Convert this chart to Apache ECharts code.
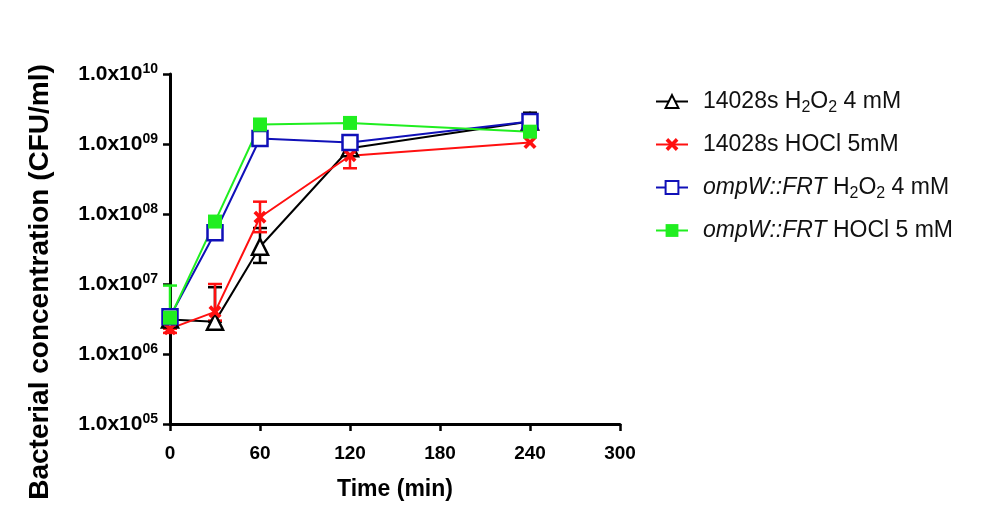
<!DOCTYPE html>
<html>
<head>
<meta charset="utf-8">
<script src="https://cdn.jsdelivr.net/npm/echarts@6/dist/echarts.min.js"></script>
<style>html,body{margin:0;padding:0;background:#fff;}#chart{width:992px;height:531px;}</style>
</head>
<body>
<div id="chart"></div>
<script>
// ---- data ----
const times = [0, 30, 60, 120, 240];
const xTicks = [0, 60, 120, 180, 240, 300];
const seriesNames = ['14028s H2O2 4 mM', '14028s HOCl 5mM', 'ompW::FRT H2O2 4 mM', 'ompW::FRT HOCl 5 mM'];
const legendLabels = ['14028s H{sub|2}O{sub|2} 4 mM', '14028s HOCl 5mM', '{it|ompW::FRT} H{sub|2}O{sub|2} 4 mM', '{it|ompW::FRT} HOCl 5 mM'];

const wtH2O2 = [3.1e6, 2.9e6, 3.4e7, 8.7e8, 2.1e9];
const wtH2O2Low = [3.1e6, 2.9e6, 2.0e7, 8.7e8, 2.1e9];
const wtH2O2High = [3.1e6, 9.0e6, 6.3e7, 8.7e8, 2.8e9];

const wtHOCl = [2.3e6, 4.0e6, 9.0e7, 6.8e8, 1.05e9];
const wtHOClLow = [2.0e6, 3.0e6, 5.5e7, 4.5e8, 1.05e9];
const wtHOClHigh = [2.3e6, 1.0e7, 1.5e8, 8.5e8, 1.05e9];

const ompH2O2 = [3.4e6, 5.4e7, 1.2e9, 1.05e9, 2.1e9];
const ompH2O2Low = [3.4e6, 5.4e7, 1.2e9, 1.05e9, 2.1e9];
const ompH2O2High = [3.4e6, 5.4e7, 1.2e9, 1.05e9, 2.1e9];

const ompHOCl = [3.3e6, 7.8e7, 1.9e9, 2.0e9, 1.5e9];
const ompHOClLow = [3.3e6, 7.8e7, 1.9e9, 2.0e9, 1.5e9];
const ompHOClHigh = [9.5e6, 7.8e7, 1.9e9, 2.0e9, 1.5e9];

const colors = ['#000000', '#ff1010', '#1010b8', '#20ee20'];

// ---- build ----
function pts(vals) { return times.map((t, i) => [t, vals[i]]); }
function errs(low, high) { return times.map((t, i) => [t, low[i], high[i]]); }

function errSeries(low, high, color) {
  return {
    type: 'custom',
    data: errs(low, high),
    encode: { x: 0, y: [1, 2] },
    silent: true,
    renderItem: function (params, api) {
      const x = api.value(0), lo = api.value(1), hi = api.value(2);
      if (lo === hi) return null;
      const a = api.coord([x, hi]);
      const b = api.coord([x, lo]);
      const w = 7;
      const st = { stroke: color, lineWidth: 2.5 };
      return {
        type: 'group',
        children: [
          { type: 'line', shape: { x1: a[0], y1: a[1], x2: b[0], y2: b[1] }, style: st },
          { type: 'line', shape: { x1: a[0] - w, y1: a[1], x2: a[0] + w, y2: a[1] }, style: st },
          { type: 'line', shape: { x1: b[0] - w, y1: b[1], x2: b[0] + w, y2: b[1] }, style: st }
        ]
      };
    }
  };
}

const crossPath = 'path://M2,0 L5,3 L8,0 L10,2 L7,5 L10,8 L8,10 L5,7 L2,10 L0,8 L3,5 L0,2 Z';

function lineSeries(name, vals, color, symbol, size, fill, bw) {
  return {
    name: name,
    type: 'line',
    data: pts(vals),
    symbol: symbol,
    symbolSize: size,
    lineStyle: { color: color, width: 2 },
    itemStyle: { color: fill, borderColor: color, borderWidth: bw },
    emphasis: { disabled: true },
    animation: false
  };
}

const FONT = 'Liberation Sans, Arial, sans-serif';

const chart = echarts.init(document.getElementById('chart'));
chart.setOption({
  animation: false,
  backgroundColor: '#ffffff',
  grid: { left: 170, right: 372, top: 74, bottom: 107, containLabel: false },
  legend: {
    data: seriesNames,
    orient: 'vertical',
    left: 650,
    top: 82,
    itemWidth: 32,
    itemHeight: 16,
    itemGap: 14,
    formatter: function (name) { return legendLabels[seriesNames.indexOf(name)]; },
    textStyle: {
      fontFamily: FONT,
      fontSize: 23,
      color: '#111',
      lineHeight: 29,
      padding: [0, 0, 0, 10],
      rich: {
        sub: { fontSize: 16, verticalAlign: 'bottom', lineHeight: 26, fontFamily: FONT, color: '#111' },
        it: { fontStyle: 'italic', fontSize: 23, fontFamily: FONT, color: '#111' }
      }
    }
  },
  xAxis: {
    type: 'value',
    min: 0,
    max: 300,
    interval: 60,
    name: 'Time (min)',
    nameLocation: 'middle',
    nameGap: 54,
    nameTextStyle: { fontFamily: FONT, fontWeight: 'bold', fontSize: 23, color: '#000' },
    axisLine: { show: true, lineStyle: { color: '#000', width: 3 } },
    axisTick: { show: true, length: 7, lineStyle: { color: '#000', width: 2.5 } },
    axisLabel: {
      margin: 20,
      fontFamily: FONT, fontWeight: 'bold', fontSize: 19, color: '#000',
      formatter: function (v) { return xTicks.indexOf(v) >= 0 ? String(v) : ''; }
    },
    splitLine: { show: false }
  },
  yAxis: {
    type: 'log',
    logBase: 10,
    min: 1e5,
    max: 1e10,
    name: 'Bacterial concentration (CFU/ml)',
    nameLocation: 'middle',
    nameGap: 116,
    nameRotate: 90,
    nameTextStyle: { fontFamily: FONT, fontWeight: 'bold', fontSize: 28, color: '#000', padding: [0, 66, 0, 0] },
    axisLine: { show: true, lineStyle: { color: '#000', width: 3 } },
    axisTick: { show: true, length: 7, lineStyle: { color: '#000', width: 2.5 } },
    axisLabel: {
      margin: 12,
      fontFamily: FONT, fontWeight: 'bold', fontSize: 21, color: '#000',
      lineHeight: 24,
      formatter: function (v) {
        const e = Math.round(Math.log10(v));
        return '1.0x10{sup|' + String(e).padStart(2, '0') + '}';
      },
      rich: {
        sup: { fontSize: 14, fontWeight: 'bold', verticalAlign: 'top', lineHeight: 24, fontFamily: FONT, color: '#000' }
      }
    },
    splitLine: { show: false }
  },
  series: [
    errSeries(wtH2O2Low, wtH2O2High, colors[0]),
    lineSeries(seriesNames[0], wtH2O2, colors[0], 'triangle', 16, '#ffffff', 2.5),
    errSeries(wtHOClLow, wtHOClHigh, colors[1]),
    lineSeries(seriesNames[1], wtHOCl, colors[1], crossPath, 13, colors[1], 0),
    errSeries(ompH2O2Low, ompH2O2High, colors[2]),
    lineSeries(seriesNames[2], ompH2O2, colors[2], 'rect', 15, '#ffffff', 2.5),
    errSeries(ompHOClLow, ompHOClHigh, colors[3]),
    lineSeries(seriesNames[3], ompHOCl, colors[3], 'rect', 14, colors[3], 0)
  ]
});
</script>
</body>
</html>
